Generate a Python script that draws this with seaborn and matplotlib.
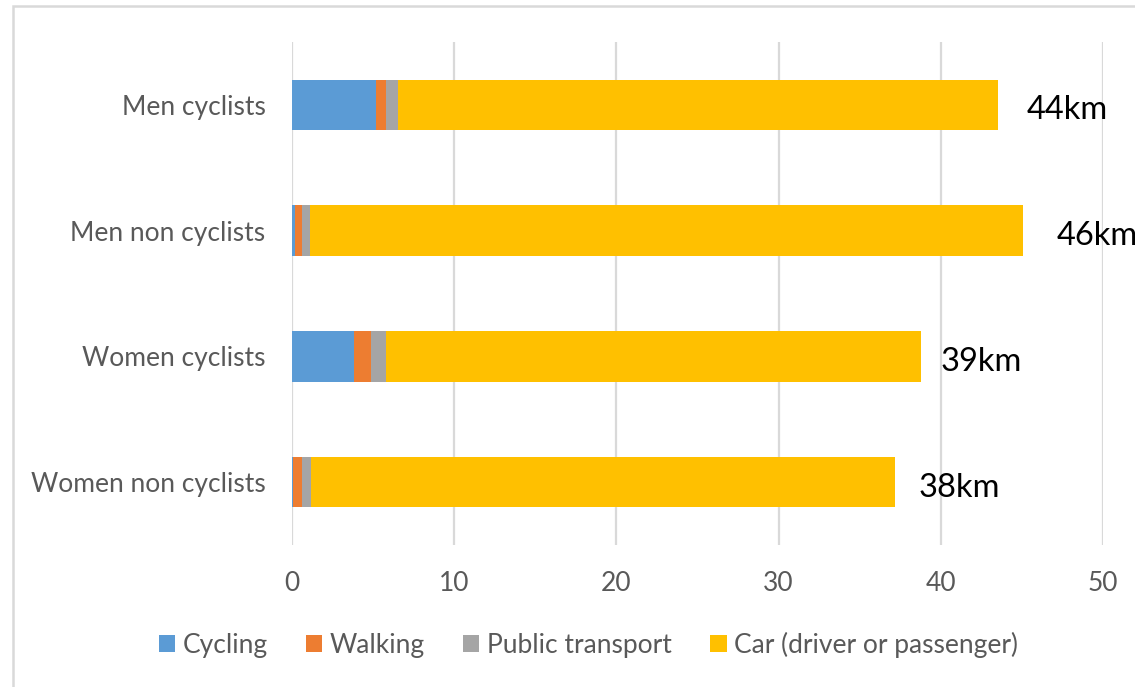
import math

import matplotlib
matplotlib.use("Agg")
import matplotlib.pyplot as plt
from matplotlib.patches import Patch, Rectangle
import numpy as np
import pandas as pd
import seaborn as sns

# Average distance travelled per trip mode (km)
categories = ["Men cyclists", "Men non cyclists", "Women cyclists", "Women non cyclists"]
cycling = [5.15, 0.18, 3.82, 0.05]
walking = [0.65, 0.45, 1.03, 0.58]
public_transport = [0.75, 0.46, 0.92, 0.56]
car = [36.95, 43.98, 33.03, 36.01]

modes = ["Cycling", "Walking", "Public transport", "Car (driver or passenger)"]
colors = ["#5B9BD5", "#ED7D31", "#A5A5A5", "#FFC000"]
x_ticks = [0, 10, 20, 30, 40, 50]

sns.set_theme(style="white")
plt.rcParams["font.family"] = ["Lato", "DejaVu Sans"]

df = pd.DataFrame({
    "group": categories,
    modes[0]: cycling,
    modes[1]: walking,
    modes[2]: public_transport,
    modes[3]: car,
})
cum = df[modes].cumsum(axis=1)
totals = cum[modes[-1]].to_numpy()

fig = plt.figure(figsize=(11.35, 6.87), dpi=100)
ax = fig.add_axes([292 / 1135, 1 - 545 / 687, (1103 - 292) / 1135, (545 - 42) / 687])

# stacked bars: draw cumulative totals from the outermost layer inwards
for mode, color in reversed(list(zip(modes, colors))):
    sns.barplot(x=cum[mode], y=df["group"], orient="h", color=color,
                saturation=1, width=0.4, linewidth=0, ax=ax)

ax.set_xlim(0, 50)
ax.set_ylim(3.5, -0.5)
ax.set_xticks(x_ticks)
ax.set_xlabel("")
ax.set_ylabel("")
ax.grid(axis="x", color="#D9D9D9", linewidth=1.6)
ax.grid(axis="y", visible=False)
ax.set_axisbelow(True)
for s in ax.spines.values():
    s.set_visible(False)
ax.tick_params(axis="x", length=0, pad=19, labelsize=19, labelcolor="#595959")
ax.tick_params(axis="y", length=0, pad=19, labelsize=19, labelcolor="#595959")

# total distance labels next to each bar
label_offsets = [21, 24.5, 13.7, 16.6]
for i, (tot, off) in enumerate(zip(totals, label_offsets)):
    ax.annotate(f"{math.ceil(round(tot, 6))}km", xy=(tot, i), xytext=(off, -4),
                textcoords="offset points", ha="left", va="center",
                fontsize=23.5, color="black", annotation_clip=False)

handles = [Patch(facecolor=c, edgecolor="none", label=m) for m, c in zip(modes, colors)]
fig.legend(handles=handles, loc="center", bbox_to_anchor=(0.5185, 0.061), ncol=4,
           frameon=False, fontsize=19, labelcolor="#595959",
           handlelength=0.61, handleheight=0.61, handletextpad=0.3,
           columnspacing=1.45)

# chart area border
fig.patches.append(Rectangle((13 / 1135, -0.1), 1.2, 1.1 - 6 / 687,
                             transform=fig.transFigure, fill=False,
                             edgecolor="#D9D9D9", linewidth=1.8))

fig.savefig("out.png", dpi=100)
